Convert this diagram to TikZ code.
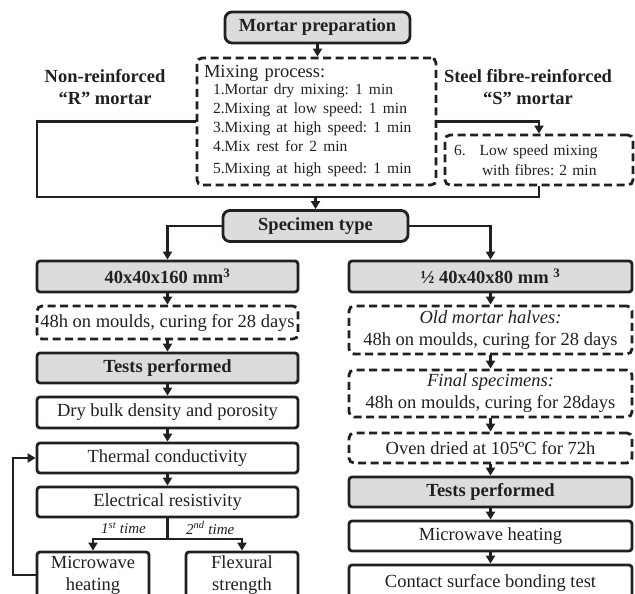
\documentclass[tikz,border=0pt]{standalone}
\usepackage{fontspec}
\setmainfont{Liberation Serif}
\usetikzlibrary{arrows.meta,calc}

\definecolor{boxgray}{RGB}{220,220,220}
\definecolor{ink}{RGB}{35,31,32}

\tikzset{
  base/.style={draw=ink, line width=2.8pt, text=ink, inner sep=2pt,
    font=\fontsize{18.5}{22}\selectfont\frenchspacing, align=center},
  graybox/.style={base, fill=boxgray, rounded corners=3pt, font=\fontsize{18.5}{22}\selectfont\bfseries},
  headbox/.style={graybox, rounded corners=7pt},
  plainbox/.style={base, rounded corners=3pt},
  dashbox/.style={base, rounded corners=5pt, dash pattern=on 8pt off 4.5pt},
  tag/.style={text=ink, font=\fontsize{18.5}{22}\selectfont\bfseries, align=center},
  note/.style={text=ink, font=\fontsize{15}{18}\selectfont\itshape, inner sep=0pt},
  link/.style={draw=ink, line width=2.2pt},
  flow/.style={link, -{Triangle[length=8pt,width=9pt]}}
}

\begin{document}
\begin{tikzpicture}[x=1pt, y=-1pt]
\clip (0,0) rectangle (635,594);

% top part
\node[headbox, minimum width=185, minimum height=31] (prep) at (317.5,27.5) {Mortar preparation};
\node[dashbox, text width=225, minimum height=127, inner sep=7pt, align=left] (mix) at (316.5,121.5)
  {Mixing process:\\[-2pt]
   {\fontsize{15.5}{19}\selectfont\frenchspacing
   \hspace*{9pt}1.Mortar dry mixing:\ 1 min\\
   \hspace*{9pt}2.Mixing at low speed:\ 1 min\\
   \hspace*{9pt}3.Mixing at high speed:\ 1 min\\
   \hspace*{9pt}4.Mix rest for 2 min\\
   \hspace*{9pt}5.Mixing at high speed:\ 1 min}};
\node[dashbox, text width=170, minimum height=50, inner sep=9pt, align=left,
  font=\fontsize{15.5}{20}\selectfont\frenchspacing] (fib) at (539,160)
  {6.\hspace{14pt}Low speed mixing\\\hspace*{28pt}with fibres:\ 2 min};
\node[tag] (rlab) at (105,87) {Non-reinforced\\``R'' mortar};
\node[tag] (slab) at (528,87) {Steel fibre-reinforced\\``S'' mortar};

\coordinate (jl) at (37,197);
\coordinate (jr) at (fib.south |- jl);

\node[headbox, minimum width=185, minimum height=31] (spec) at (315.5,226) {Specimen type};

% left column
\node[graybox, minimum width=261, minimum height=31] (b1) at (167.5,276.5) {40x40x160 mm\textsuperscript{3}};
\node[dashbox, minimum width=261, minimum height=33, inner sep=0pt] (cure1) at (167.5,322.5) {48h on moulds, curing for 28 days};
\node[graybox, minimum width=261, minimum height=30] (test1) at (167.5,368) {Tests performed};
\node[plainbox, minimum width=261, minimum height=31] (dry) at (167.5,412.5) {Dry bulk density and porosity};
\node[plainbox, minimum width=261, minimum height=30] (therm) at (167.5,458) {Thermal conductivity};
\node[plainbox, minimum width=261, minimum height=30] (elec) at (167.5,502) {Electrical resistivity};
\node[plainbox, minimum width=112, minimum height=46] (mw1) at (93,575) {Microwave\\heating};
\node[plainbox, minimum width=112, minimum height=46] (flex) at (242,575) {Flexural\\strength};
\coordinate (split) at (elec.south |- 0,539);
\node[note, anchor=east] (first) at (146,528) {1\textsuperscript{st} time};
\node[note, anchor=west] (second) at (186,528) {2\textsuperscript{nd} time};

% right column
\node[graybox, minimum width=283, minimum height=31] (b2) at (490.5,276.5) {\textonehalf{} 40x40x80 mm \textsuperscript{3}};
\node[dashbox, minimum width=283, minimum height=48] (old) at (490.5,330) {\textit{Old mortar halves:}\\48h on moulds, curing for 28 days};
\node[dashbox, minimum width=283, minimum height=47] (final) at (490.5,393.5) {\textit{Final specimens:}\\48h on moulds, curing for 28days};
\node[dashbox, minimum width=283, minimum height=30] (oven) at (490.5,448) {Oven dried at 105ºC for 72h};
\node[graybox, minimum width=283, minimum height=30] (test2) at (490.5,492) {Tests performed};
\node[plainbox, minimum width=283, minimum height=30] (mw2) at (490.5,536) {Microwave heating};
\node[plainbox, minimum width=283, minimum height=36] (bond) at (490.5,583) {Contact surface bonding test};

% connectors
\draw[flow] (prep.south) -- (prep.south |- mix.north);
\draw[link] (mix.west) -| (jl) -- (jr) -- (fib.south);
\draw[flow] (mix.east) -| (fib.north);
\draw[flow] (spec.north |- jl) -- (spec.north);
\draw[flow] (spec.west) -| (b1.north);
\draw[flow] (spec.east) -| (b2.north);
\foreach \a/\b in {b1/cure1, cure1/test1, test1/dry, dry/therm, therm/elec,
                   b2/old, old/final, final/oven, oven/test2, test2/mw2, mw2/bond}
  \draw[flow] (\a.south) -- (\b.north);
\draw[link] (elec.south) -- (split);
\draw[flow] (split) -| (mw1.north);
\draw[flow] (split) -| (flex.north);
\draw[flow] (mw1.west) -- ++(-23,0) |- (therm.west);
\end{tikzpicture}
\end{document}
